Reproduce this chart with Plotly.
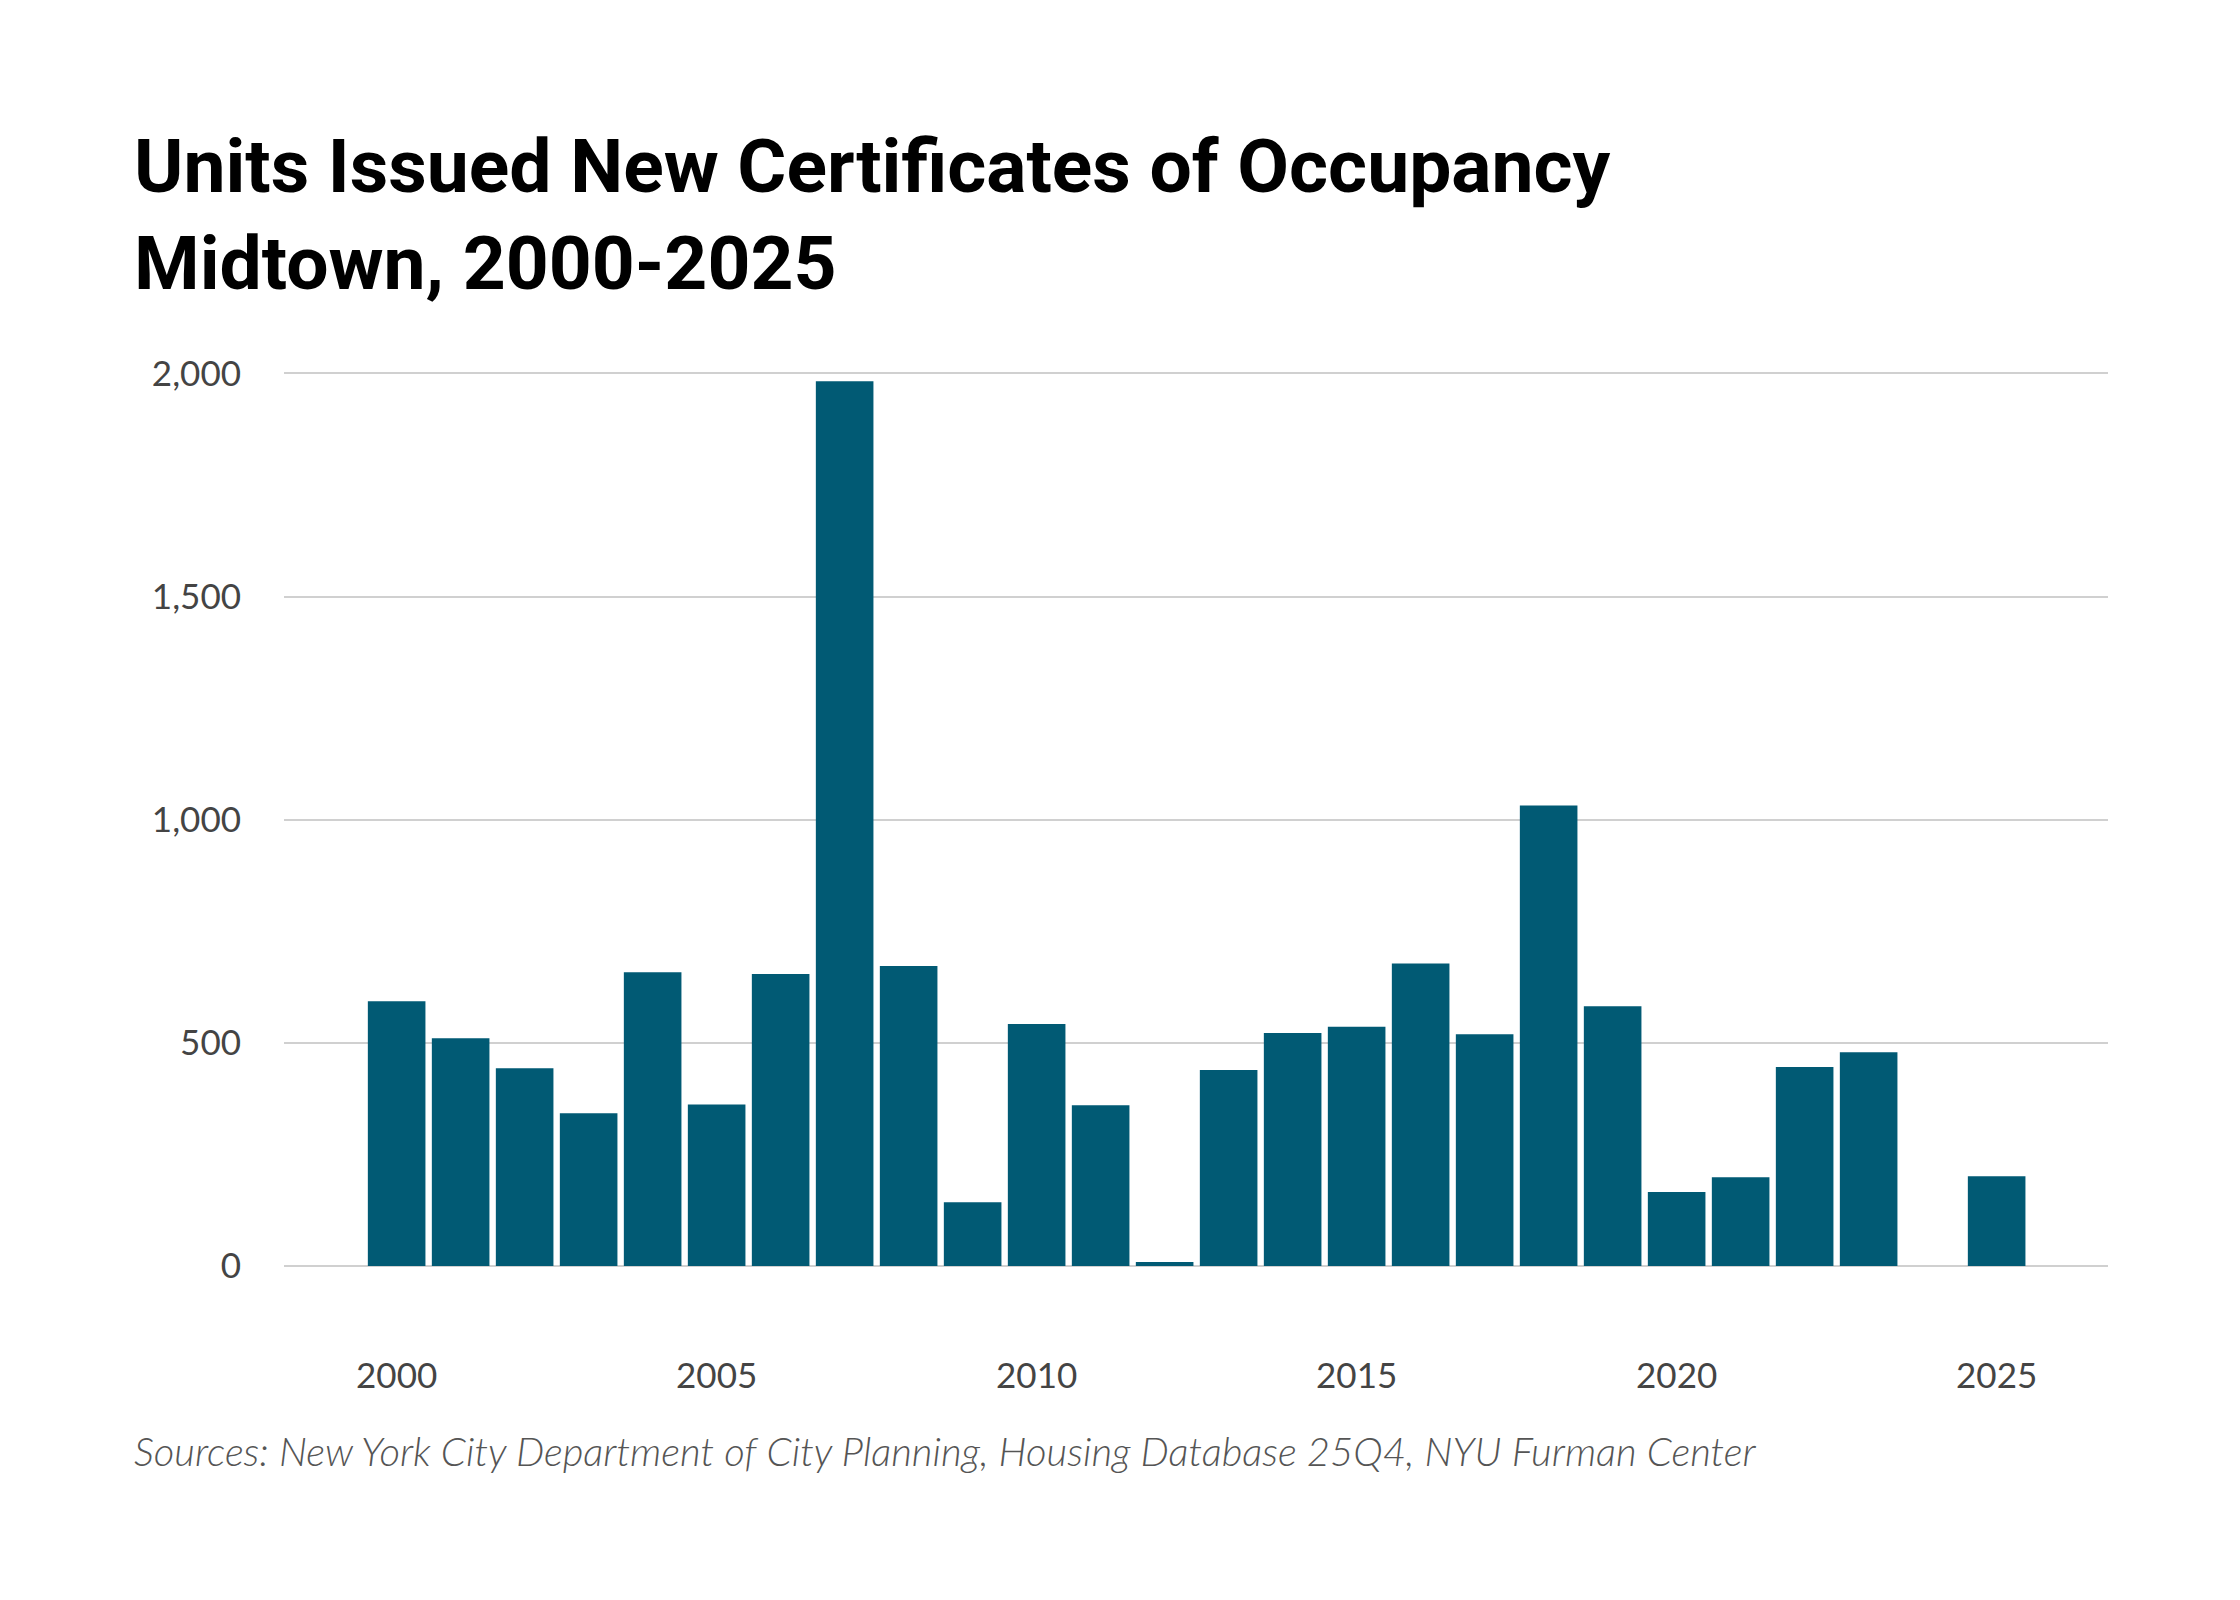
import plotly.graph_objects as go

years = list(range(2000, 2026))
units = [593, 510, 443, 342, 658, 362, 654, 1982, 672, 143,
         542, 360, 9, 439, 522, 536, 678, 519, 1032, 582,
         166, 199, 446, 479, 0, 201]

title_line1 = "Units Issued New Certificates of Occupancy"
title_line2 = "Midtown, 2000-2025"
source_text = "Sources: New York City Department of City Planning, Housing Database 25Q4, NYU Furman Center"

fig = go.Figure()

fig.add_trace(go.Bar(
    x=years,
    y=units,
    marker_color="#015a74",
    marker_line_width=0,
    hoverinfo="x+y",
))

# title, two lines placed separately so the spacing matches
fig.add_annotation(text=title_line1, xref="paper", yref="paper", x=-0.0834, y=1.23,
                   xanchor="left", yanchor="middle", showarrow=False,
                   font=dict(family="Roboto", size=75, color="#000000", weight=700))
fig.add_annotation(text=title_line2, xref="paper", yref="paper", x=-0.0834, y=1.122,
                   xanchor="left", yanchor="middle", showarrow=False,
                   font=dict(family="Roboto", size=75, color="#000000", weight=700))
fig.add_annotation(text=source_text, xref="paper", yref="paper", x=-0.0834, y=-0.207,
                   xanchor="left", yanchor="middle", showarrow=False,
                   font=dict(family="Lato", size=40, color="#555555", style="italic", weight=300))

fig.update_layout(
    width=2240,
    height=1600,
    margin=dict(l=276, r=140, t=364, b=342),
    plot_bgcolor="white",
    paper_bgcolor="white",
    bargap=0.1,
    showlegend=False,
    xaxis=dict(
        range=[1998.24, 2026.74],
        tickvals=[2000, 2005, 2010, 2015, 2020, 2025],
        showgrid=False,
        zeroline=False,
        showline=False,
        ticks="",
        ticklabelstandoff=86,
        tickfont=dict(family="Lato", size=35, color="#444444"),
    ),
    yaxis=dict(
        range=[0, 2003],
        tickvals=[0, 500, 1000, 1500, 2000],
        tickformat=",",
        showgrid=True,
        gridcolor="#d0d0d0",
        gridwidth=2,
        zeroline=True,
        zerolinecolor="#d0d0d0",
        zerolinewidth=2,
        showline=False,
        ticks="",
        ticklabelstandoff=42,
        tickfont=dict(family="Lato", size=35, color="#444444"),
    ),
)

fig.write_html("out.html")
